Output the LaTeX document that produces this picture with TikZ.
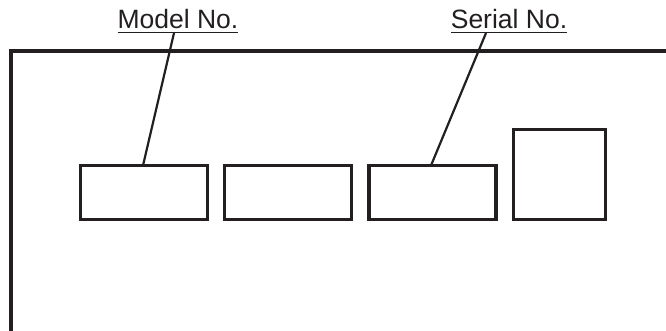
\documentclass[tikz,border=0pt]{standalone}
\usepackage{fontspec}
\setmainfont{Liberation Sans}
\definecolor{ink}{RGB}{35,31,32}
\begin{document}
\begin{tikzpicture}[x=1pt,y=-1pt,
  panel/.style={draw=ink,line width=3.3pt,minimum width=127pt,minimum height=54pt,inner sep=0pt,outer sep=0pt},
  lbl/.style={inner sep=0pt,outer sep=0pt,anchor=base,text=ink,font=\fontsize{26.5}{30}\selectfont},
  leader/.style={draw=ink,line width=2.2pt},
  uline/.style={draw=ink,line width=1.6pt}]
\useasboundingbox (0,0) rectangle (666,331);
% frame
\coordinate (fr) at (666,51);
\coordinate (fc) at (11,51);
\coordinate (fb) at (11,332);
\draw[draw=ink,line width=3.3pt,line join=miter] (fr) -- (fc) -- (fb);
% panels
\node[panel] (b1) at (144,192.5) {};
\node[panel] (b2) at (288,192.5) {};
\node[panel] (b3) at (432.5,192.5) {};
\node[panel,minimum width=92pt,minimum height=90pt] (b4) at (559.5,174.5) {};
% labels
\node[lbl] (model) at (178,29) {Model No.};
\node[lbl] (serial) at (509,29) {Serial No.};
\draw[uline] ([yshift=-3.5pt]model.base west) -- ([yshift=-3.5pt]model.base east);
\draw[uline] ([yshift=-3.5pt]serial.base west) -- ([yshift=-3.5pt]serial.base east);
% leaders
\coordinate (m0) at (174,33);
\coordinate (s0) at (486,33);
\draw[leader] (m0) -- (b1.north -| 143,0);
\draw[leader] (s0) -- (b3.north -| 431,0);
\end{tikzpicture}
\end{document}
